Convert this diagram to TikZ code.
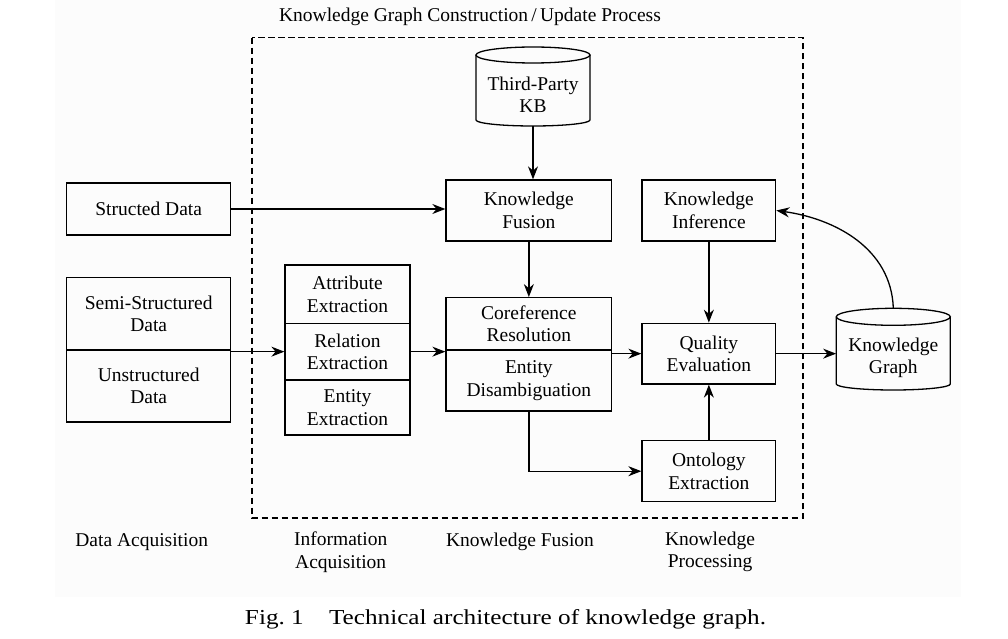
\documentclass[tikz,border=0pt]{standalone}
\usepackage{fontspec}
\setmainfont{Liberation Serif}
\usetikzlibrary{arrows.meta}
\begin{document}
\begin{tikzpicture}[x=1pt,y=-1pt,
  txt/.style={inner sep=0pt, align=center, font=\fontsize{19.5}{22.5}\selectfont},
  box/.style={txt, draw, line width=1.3pt},
  arr/.style={line width=1.3pt, -{Stealth[length=13pt,width=10pt]}},
  cyl/.style={line width=1.3pt},
  frame/.style={line width=1.3pt, dash pattern=on 6.5pt off 3.5pt}]
\useasboundingbox (0,0) rectangle (1008,639);
\fill[black!1] (55,0) rectangle (961,597);
% frame
\draw[frame] (252,37.7) rectangle (803,518);
\node[txt] (title) at (470,17) {Knowledge Graph Construction\,/\,Update Process};
% cylinders
\draw[cyl] (476,55) -- (476,120) arc[start angle=180, end angle=0, x radius=57, y radius=6] -- (590,55);
\draw[cyl] (533,55) ellipse[x radius=57, y radius=8];
\node[inner sep=0pt, minimum width=114pt, minimum height=79pt] (kb) at (533,86.5) {};
\node[txt] (kbt) at (533,95) {Third-Party\\KB};
\draw[cyl] (836.3,316.8) -- (836.3,384) arc[start angle=180, end angle=0, x radius=57, y radius=6] -- (950.3,316.8);
\draw[cyl] (893.3,316.8) ellipse[x radius=57, y radius=8.5];
\node[inner sep=0pt, minimum width=114pt, minimum height=81.7pt] (kg) at (893.3,349.15) {};
\node[txt] (kgt) at (893.3,358) {Knowledge\\Graph};
% boxes
\node[box, minimum width=164pt, minimum height=52pt] (sd) at (148.7,209) {Structed Data};
\node[box, minimum width=164pt, minimum height=72.3pt] (semi) at (148.7,313.85) {Semi-Structured\\Data};
\node[box, minimum width=164pt, minimum height=72pt] (unstr) at (148.7,386) {Unstructured\\Data};
\node[box, minimum width=125pt, minimum height=58.3pt] (attr) at (347.5,294.15) {Attribute\\Extraction};
\node[box, minimum width=125pt, minimum height=56.7pt] (rel) at (347.5,351.65) {Relation\\Extraction};
\node[box, minimum width=125pt, minimum height=55pt] (ent) at (347.5,407.5) {Entity\\Extraction};
\node[box, minimum width=165.7pt, minimum height=61pt] (kf) at (528.85,210.5) {Knowledge\\Fusion};
\node[box, minimum width=165.7pt, minimum height=52.3pt] (coref) at (528.85,323.85) {Coreference\\Resolution};
\node[box, minimum width=165.7pt, minimum height=61pt] (ed) at (528.85,380.5) {Entity\\Disambiguation};
\node[box, minimum width=133.7pt, minimum height=61pt] (ki) at (708.85,210.5) {Knowledge\\Inference};
\node[box, minimum width=133.7pt, minimum height=60.7pt] (qe) at (708.85,353.65) {Quality\\Evaluation};
\node[box, minimum width=133.7pt, minimum height=61pt] (oe) at (708.85,471.2) {Ontology\\Extraction};
% connectors
\draw[arr] (kb.south) -- (kb.south |- kf.north);
\draw[arr] (sd.east) -- (sd.east -| kf.west);
\draw[arr] (kf.south) -- (coref.north);
\draw[arr] (semi.south east |- rel.west) -- (rel.west);
\draw[arr] (rel.east) -- (rel.east -| coref.west);
\draw[arr] (qe.west -| ed.east) -- (qe.west);
\draw[arr] (ki.south) -- (qe.north);
\draw[arr] (oe.north) -- (qe.south);
\draw[arr] (ed.south) |- (oe.west);
\draw[arr] (qe.east) -- (qe.east -| kg.west);
\draw[arr] (kg.north) to[out=92, in=-8] (ki.east);
% bottom labels
\node[txt] (l1) at (141.7,541.7) {Data Acquisition};
\node[txt] (l2) at (340.7,552) {Information\\Acquisition};
\node[txt] (l3) at (520,541.7) {Knowledge Fusion};
\node[txt] (l4) at (710,552) {Knowledge\\Processing};
\node[inner sep=0pt, anchor=base] (cap) at (505.5,624) {\resizebox{521pt}{15pt}{\fontsize{20}{24}\selectfont Fig.\ 1\quad Technical architecture of knowledge graph.}};
\end{tikzpicture}
\end{document}
